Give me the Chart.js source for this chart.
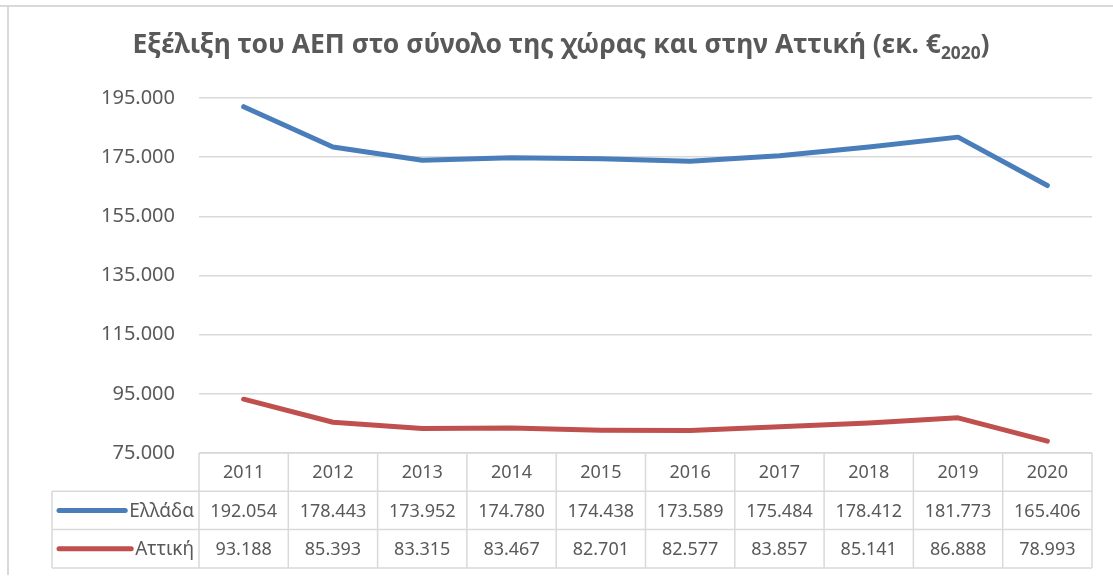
<!DOCTYPE html>
<html>
<head>
<meta charset="utf-8">
<script src="https://cdn.jsdelivr.net/npm/chart.js@4/dist/chart.umd.min.js"></script>
<style>
  html, body { margin: 0; padding: 0; background: #ffffff; }
  #wrap { width: 1113px; height: 577px; position: relative; }
</style>
</head>
<body>
<div id="wrap"><canvas id="c" width="1113" height="577"></canvas></div>
<script>
const titleMain = "Εξέλιξη του ΑΕΠ στο σύνολο της χώρας και στην Αττική (εκ. €";
const titleSub = "2020";
const titleEnd = ")";
const years = ["2011","2012","2013","2014","2015","2016","2017","2018","2019","2020"];
const greeceLabel = "Ελλάδα";
const atticaLabel = "Αττική";
const greece = [192054,178443,173952,174780,174438,173589,175484,178412,181773,165406];
const attica = [93188,85393,83315,83467,82701,82577,83857,85141,86888,78993];
const yMin = 75000, yMax = 195000, yStep = 20000;

const textColor = "#595959";
const gridColor = "#d9d9d9";
const blue = "#4a7ebb";
const red = "#c0504d";

function fmt(v) {
  return String(v).replace(/\B(?=(\d{3})+(?!\d))/g, ".");
}

const framePlugin = {
  id: "frame",
  beforeDraw(chart) {
    const ctx = chart.ctx;
    ctx.save();
    ctx.fillStyle = "#ffffff";
    ctx.fillRect(0, 0, chart.width, chart.height);
    ctx.strokeStyle = gridColor;
    ctx.lineWidth = 2;
    ctx.beginPath();
    ctx.moveTo(0, 6); ctx.lineTo(chart.width, 6);
    ctx.moveTo(8, 6); ctx.lineTo(8, 575);
    ctx.stroke();
    ctx.restore();
  }
};

const titlePlugin = {
  id: "titleSub",
  afterDraw(chart) {
    const ctx = chart.ctx;
    ctx.save();
    const mainFont = "bold 26px 'Noto Sans'";
    const subFont = "bold 17px 'Noto Sans'";
    ctx.font = mainFont;
    const w1 = ctx.measureText(titleMain).width;
    const w3 = ctx.measureText(titleEnd).width;
    ctx.font = subFont;
    const w2 = ctx.measureText(titleSub).width;
    const total = w1 + w2 + w3;
    const target = 857;
    const sx = target / total;
    const cx = 561;
    const baseY = 53;
    ctx.translate(cx - total * sx / 2, baseY);
    ctx.scale(sx, 1);
    ctx.fillStyle = textColor;
    ctx.textBaseline = "alphabetic";
    ctx.textAlign = "left";
    ctx.font = mainFont;
    ctx.fillText(titleMain, 0, 0);
    ctx.font = subFont;
    ctx.fillText(titleSub, w1, 6);
    ctx.font = mainFont;
    ctx.fillText(titleEnd, w1 + w2, 0);
    ctx.restore();
  }
};

const tablePlugin = {
  id: "dataTable",
  afterDraw(chart) {
    const ctx = chart.ctx;
    const xs = chart.scales.x;
    const area = chart.chartArea;
    const left = area.left, right = area.right;
    const colW = (right - left) / years.length;
    const top = area.bottom;
    const rowH = 38.3;
    const tableLeft = 52;
    const bottom = top + rowH * 3;
    ctx.save();
    ctx.strokeStyle = gridColor;
    ctx.lineWidth = 1.5;
    ctx.beginPath();
    ctx.moveTo(left, top); ctx.lineTo(right, top);
    ctx.moveTo(tableLeft, top + rowH); ctx.lineTo(right, top + rowH);
    ctx.moveTo(tableLeft, top + rowH * 2); ctx.lineTo(right, top + rowH * 2);
    ctx.moveTo(tableLeft, bottom); ctx.lineTo(right, bottom);
    ctx.moveTo(tableLeft, top + rowH); ctx.lineTo(tableLeft, bottom);
    for (let i = 0; i <= years.length; i++) {
      const x = left + colW * i;
      ctx.moveTo(x, top); ctx.lineTo(x, bottom);
    }
    ctx.stroke();

    ctx.fillStyle = textColor;
    ctx.font = "18px 'Noto Sans'";
    ctx.textAlign = "center";
    ctx.textBaseline = "middle";
    years.forEach((y, i) => {
      const x = xs.getPixelForValue(i);
      ctx.fillText(y, x, top + rowH * 0.5 + 1);
      ctx.fillText(fmt(greece[i]), x, top + rowH * 1.5 + 1);
      ctx.fillText(fmt(attica[i]), x, top + rowH * 2.5 + 1);
    });
    const rows = [[greeceLabel, blue], [atticaLabel, red]];
    ctx.font = "19px 'Noto Sans'";
    rows.forEach((r, k) => {
      const cy = top + rowH * (1.5 + k);
      const tw = ctx.measureText(r[0]).width;
      const textRight = 194;
      ctx.strokeStyle = r[1];
      ctx.lineWidth = 5;
      ctx.lineCap = "round";
      ctx.beginPath();
      ctx.moveTo(59, cy); ctx.lineTo(textRight - tw - 4, cy);
      ctx.stroke();
      ctx.textAlign = "right";
      ctx.fillStyle = textColor;
      ctx.fillText(r[0], textRight, cy + 1);
    });
    ctx.restore();
  }
};

new Chart(document.getElementById("c"), {
  type: "line",
  data: {
    labels: years,
    datasets: [
      { label: greeceLabel, data: greece, borderColor: blue, backgroundColor: blue,
        borderWidth: 5, pointRadius: 0, tension: 0, borderCapStyle: "round", borderJoinStyle: "round" },
      { label: atticaLabel, data: attica, borderColor: red, backgroundColor: red,
        borderWidth: 5, pointRadius: 0, tension: 0, borderCapStyle: "round", borderJoinStyle: "round" }
    ]
  },
  options: {
    responsive: false,
    animation: false,
    layout: { padding: { left: 0, top: 98, right: 21, bottom: 124 } },
    plugins: { legend: { display: false }, title: { display: false }, tooltip: { enabled: false } },
    scales: {
      x: { type: "category", display: false, offset: true },
      y: {
        min: yMin, max: yMax,
        border: { display: false },
        grid: { color: gridColor, lineWidth: 1.5, drawTicks: false },
        ticks: { stepSize: yStep, padding: 24, color: textColor,
                 font: { family: "'Noto Sans'", size: 20 },
                 callback: (v) => fmt(v) },
        afterFit(scale) { scale.width = 199; }
      }
    }
  },
  plugins: [framePlugin, titlePlugin, tablePlugin]
});
</script>
</body>
</html>
